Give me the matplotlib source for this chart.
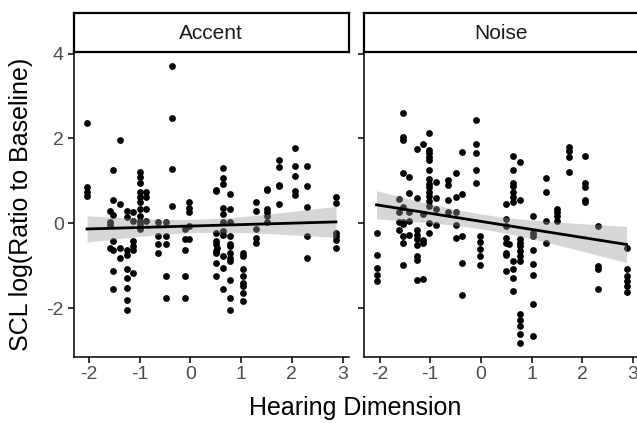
import numpy as np
import matplotlib
matplotlib.use("Agg")
import matplotlib.pyplot as plt

plt.rcParams["font.family"] = ["Liberation Sans", "DejaVu Sans"]
plt.rcParams["axes.unicode_minus"] = False

# Hearing dimension columns and the SCL values stacked in each one
accent_x = [-2.04, -1.59, -1.53, -1.39, -1.26, -1.14, -1.00, -0.87, -0.65, -0.48,
            -0.36, -0.10, -0.02, 0.50, 0.53, 0.65, 0.78, 1.04, 1.29, 1.50,
            1.74, 2.07, 2.30, 2.87]
accent_y = [
    [2.36, 0.85, 0.73, 0.65],
    [0.28, 0.04, -0.04, -0.58],
    [1.26, 0.54, 0.20, -0.42, -0.62, -1.13, -1.56],
    [1.97, 0.45, -0.58, -0.83],
    [0.30, 0.14, -0.62, -0.74, -1.09, -1.29, -1.52, -1.80, -2.04],
    [0.26, 0.06, -0.42, -0.54, -0.62, -1.17],
    [1.20, 1.08, 0.96, 0.73, 0.61, 0.49, 0.33, 0.18, 0.06, -0.02, -0.14],
    [0.73, 0.61, 0.33, 0.06],
    [0.02, -0.30, -0.50, -0.70],
    [0.02, -0.30, -0.50, -1.25, -1.76],
    [3.71, 2.47, 1.28, 0.41],
    [-0.14, -0.38, -0.62, -1.25, -1.76],
    [0.49, 0.37, 0.26, -0.06, -0.38],
    [0.79, 0.77, -0.22, -0.42, -0.50, -0.66, -0.70, -0.93, -1.25],
    [-0.59],
    [1.31, 1.07, 0.93, 0.37, 0.22, 0.02, -0.18, -0.27, -0.78, -1.05, -1.56],
    [0.69, 0.33, 0.02, -0.30, -0.50, -0.54, -0.70, -0.82, -0.90, -1.33, -1.76, -2.04],
    [-0.70, -0.78, -1.09, -1.25, -1.41, -1.48, -1.64, -1.84],
    [0.49, 0.28, -0.14, -0.34, -0.46],
    [0.81, 0.79, 0.33, 0.26, 0.18, 0.02],
    [1.49, 1.33, 0.90, 0.88, 0.45],
    [1.78, 1.35, 1.11, 0.77, 0.67],
    [1.35, 0.87, 0.38, -0.31, -0.82],
    [0.63, 0.47, -0.24, -0.31, -0.39, -0.59],
]

noise_x = [-2.06, -1.61, -1.54, -1.41, -1.27, -1.15, -1.02, -0.88, -0.65, -0.49,
           -0.38, -0.10, -0.02, 0.49, 0.55, 0.63, 0.77, 1.03, 1.28, 1.49,
           1.73, 2.06, 2.30, 2.87]
noise_y = [
    [-0.24, -0.75, -1.05, -1.21, -1.37],
    [0.57, 0.26, 0.02, -0.16],
    [2.60, 2.04, 1.97, 1.18, 0.38, 0.02, -0.02, -0.30, -0.46, -0.98],
    [1.10, 0.71, 0.27, 0.06, -0.27],
    [1.75, 0.59, -0.16, -0.27, -0.38, -0.52, -0.78, -0.86, -1.35],
    [1.87, 0.22, -0.39, -0.47, -1.31],
    [2.12, 1.73, 1.65, 1.57, 1.49, 1.26, 1.04, 0.92, 0.85, 0.74, 0.65, 0.53, 0.41, 0.0, -0.24],
    [0.98, 0.59, 0.34, -0.05],
    [1.02, 0.90, 0.54, 0.27],
    [1.18, 0.62, 0.26, -0.05, -0.35],
    [1.69, 0.69, -0.30, -0.94, -1.70],
    [2.44, 1.86, 1.66, 1.26, 0.94],
    [-0.29, -0.44, -0.60, -0.78, -0.99],
    [0.46, 0.10, -0.06, -0.34, -0.46, -0.70, -0.74, -1.13],
    [-0.50],
    [1.58, 1.26, 0.96, 0.88, 0.73, 0.61, 0.49, -0.89, -1.09, -1.29, -1.60],
    [1.44, 0.55, -0.38, -0.46, -0.54, -0.66, -0.78, -0.89, -2.15, -2.27, -2.43, -2.62, -2.82],
    [0.18, -0.22, -0.30, -0.62, -0.97, -1.21, -1.91, -2.65],
    [1.06, 0.74, 0.06, -0.47],
    [0.33, 0.26, 0.18, 0.06],
    [1.79, 1.71, 1.57, 1.20],
    [1.59, 0.94, 0.85, 0.54, 0.49],
    [-0.06, -1.01, -1.09, -1.54],
    [-0.58, -1.09, -1.25, -1.37, -1.48, -1.63],
]

panels = ["Accent", "Noise"]
x_ticks = [-2, -1, 0, 1, 2, 3]
y_ticks = [-2, 0, 2, 4]


def flatten(cols, vals):
    xs = []
    ys = []
    for cx, cv in zip(cols, vals):
        for v in cv:
            xs.append(cx)
            ys.append(v)
    return np.array(xs), np.array(ys)


def lm_band(x, y, grid):
    # ordinary least squares with 95% confidence band, like geom_smooth(method="lm")
    n = len(x)
    slope, intercept = np.polyfit(x, y, 1)
    fit = intercept + slope * grid
    resid = y - (intercept + slope * x)
    s = np.sqrt(np.sum(resid ** 2) / (n - 2))
    se = s * np.sqrt(1 / n + (grid - x.mean()) ** 2 / np.sum((x - x.mean()) ** 2))
    return fit, fit - 1.976 * se, fit + 1.976 * se


data = [flatten(accent_x, accent_y), flatten(noise_x, noise_y)]

all_x = np.concatenate([d[0] for d in data])
all_y = np.concatenate([d[1] for d in data])
xr = all_x.max() - all_x.min()
yr = all_y.max() - all_y.min()
xlim = (all_x.min() - 0.05 * xr, all_x.max() + 0.05 * xr)
ylim = (all_y.min() - 0.05 * yr, all_y.max() + 0.05 * yr)

fig = plt.figure(figsize=(6.37, 4.23), dpi=100)

panel_left = [73.5 / 637, 364 / 637]
panel_w = 275 / 637
panel_b = 66.3 / 423
panel_h = 304.7 / 423
strip_b = panel_b + panel_h
strip_h = 39 / 423

for i, name in enumerate(panels):
    ax = fig.add_axes([panel_left[i], panel_b, panel_w, panel_h])
    x, y = data[i]
    ax.scatter(x, y, s=24, color="black", linewidths=0, zorder=2)

    grid = np.linspace(x.min(), x.max(), 80)
    fit, lo, hi = lm_band(x, y, grid)
    ax.fill_between(grid, lo, hi, color="#999999", alpha=0.4, linewidth=0, zorder=3)
    ax.plot(grid, fit, color="black", linewidth=2, zorder=4)

    ax.set_xlim(xlim)
    ax.set_ylim(ylim)
    ax.set_xticks(x_ticks)
    ax.set_yticks(y_ticks)
    for side in ["top", "right"]:
        ax.spines[side].set_visible(False)
    for side in ["left", "bottom"]:
        ax.spines[side].set_linewidth(1.1)
    ax.tick_params(axis="both", labelsize=14, labelcolor="#4D4D4D",
                   length=4, width=1.1, pad=3)
    if i > 0:
        ax.tick_params(axis="y", labelleft=False)

    sax = fig.add_axes([panel_left[i], strip_b, panel_w, strip_h])
    sax.set_xticks([])
    sax.set_yticks([])
    for sp in sax.spines.values():
        sp.set_linewidth(1.6)
    sax.text(0.5, 0.48, name, ha="center", va="center", fontsize=15,
             color="#1A1A1A", transform=sax.transAxes)

fig.text(355 / 637, 1 - 408 / 423, "Hearing Dimension", ha="center", va="center",
         fontsize=18)
fig.text(21 / 637, panel_b + panel_h / 2, "SCL log(Ratio to Baseline)", ha="center",
         va="center", rotation=90, fontsize=18)

fig.savefig("out.png", dpi=100)
